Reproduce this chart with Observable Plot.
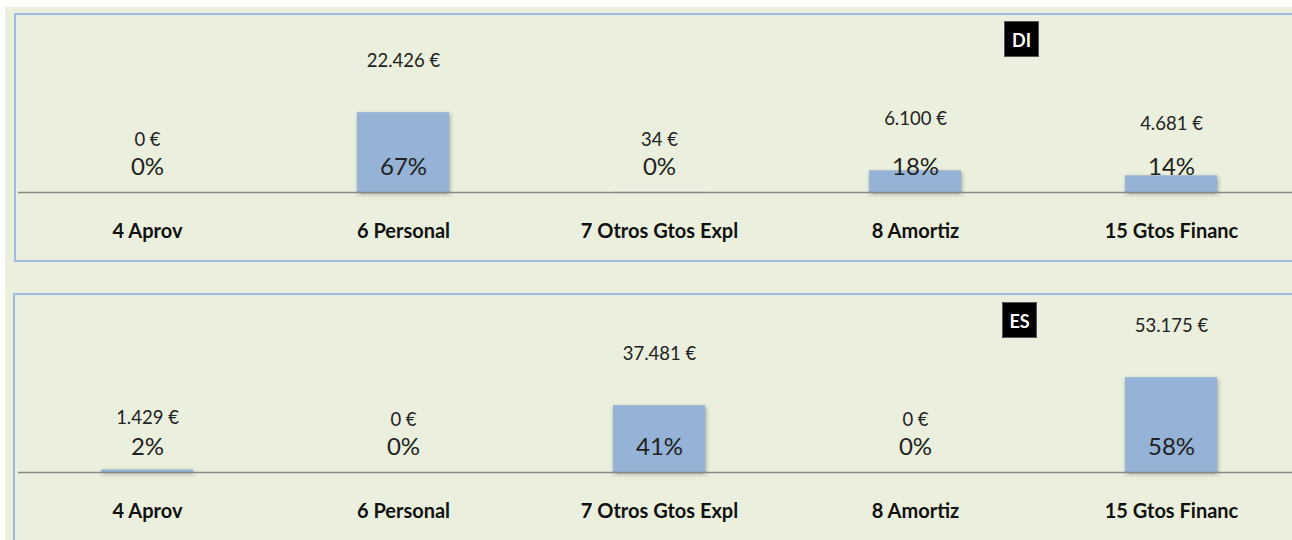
<!DOCTYPE html>
<html>
<head>
<meta charset="utf-8">
<script src="https://cdn.jsdelivr.net/npm/d3@7"></script>
<script src="https://cdn.jsdelivr.net/npm/@observablehq/plot@0.6"></script>
<style>
  html, body { margin: 0; padding: 0; background: #ffffff; }
  #wrap { position: relative; width: 1292px; height: 540px; overflow: hidden; background: #ffffff; font-family: Lato, "Open Sans", sans-serif; }
  #bg { position: absolute; left: 5px; top: 7px; right: 0; bottom: 0; background: #EBF0DE; }
  .panel { position: absolute; border: 2px solid #9FBCE0; box-sizing: border-box; }
  .plot { position: absolute; left: 0; }
  .tag { position: absolute; width: 35px; height: 36px; background: #000; color: #fff; font-weight: bold; font-size: 18px; line-height: 36px; text-align: center; box-sizing: border-box; border: 1px solid #555; }
  .plot svg g[aria-label="bar"] rect { filter: drop-shadow(1px 2px 2px rgba(0,0,0,0.35)); }
</style>
</head>
<body>
<div id="wrap">
  <div id="bg"></div>
  <div class="panel" style="left:14px;top:13px;width:1300px;height:249px;"></div>
  <div class="panel" style="left:13px;top:293px;width:1300px;height:300px;"></div>
  <div class="plot" id="p1" style="top:0px;"></div>
  <div class="plot" id="p2" style="top:270px;"></div>
  <div class="tag" id="t1" style="left:1004px;top:21px;"></div>
  <div class="tag" id="t2" style="left:1002px;top:302px;"></div>
</div>
<script>
// ---- Data ----
const categories = ["4 Aprov", "6 Personal", "7 Otros Gtos Expl", "8 Amortiz", "15 Gtos Financ"];
const panelNames = ["DI", "ES"];
const valuesDI = [0, 22426, 34, 6100, 4681];
const pctDI = [0, 67, 0, 18, 14];
const valuesES = [1429, 0, 37481, 0, 53175];
const pctES = [2, 0, 41, 0, 58];

const esLocale = d3.formatLocale({decimal: ",", thousands: ".", grouping: [3], currency: ["", " €"]});
const fmtEuro = esLocale.format("$,.0f");

function makeChart(values, pcts, yMax, marginTop, marginBottom) {
  const rows = categories.map((c, i) => ({cat: c, value: values[i], pct: pcts[i]}));
  return Plot.plot({
    width: 1292,
    height: 270,
    marginLeft: 18,
    marginRight: 0,
    marginTop,
    marginBottom,
    style: {background: "transparent", fontFamily: "Lato, sans-serif", overflow: "visible", color: "#1a1a1a"},
    x: {type: "band", domain: categories, range: [18, 1300], paddingInner: 0.64, paddingOuter: 0.32, label: null},
    y: {domain: [0, yMax], axis: null},
    marks: [
      Plot.barY(rows, {x: "cat", y: "value", fill: "#95B3D7"}),
      Plot.ruleY([0], {stroke: "#878787", strokeWidth: 1.5}),
      Plot.text(rows, {x: "cat", y: "value", text: d => fmtEuro(d.value), dy: -52, fontSize: 18.5, fill: "#222"}),
      Plot.text(rows, {x: "cat", y: 0, text: d => d.pct + "%", dy: -25, fontSize: 24, fill: "#222"}),
      Plot.axisX({tickSize: 0, tickPadding: 31, fontSize: 20, fontWeight: "bold", color: "#111", label: null})
    ]
  });
}

document.getElementById("p1").appendChild(makeChart(valuesDI, pctDI, 25000, 103, 78));
document.getElementById("p2").appendChild(makeChart(valuesES, pctES, 60000, 95, 68));
document.getElementById("t1").textContent = panelNames[0];
document.getElementById("t2").textContent = panelNames[1];
</script>
</body>
</html>
